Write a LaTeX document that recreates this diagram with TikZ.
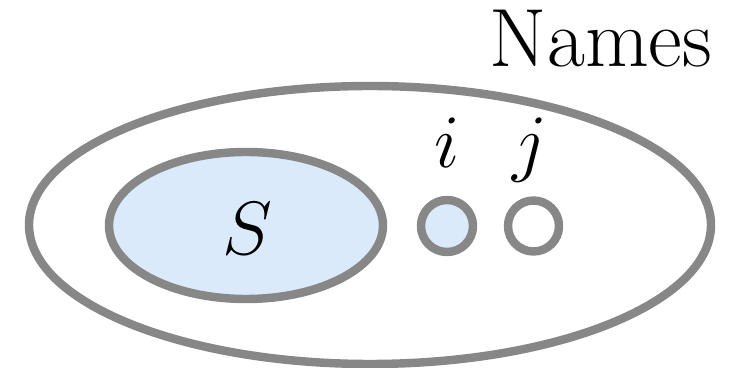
\RequirePackage{fix-cm}
\documentclass[tikz,border=0pt]{standalone}
\usepackage{amsmath,amssymb}
\usepackage{xcolor}
\usepackage{tikz}
\definecolor{rim}{HTML}{878787}
\definecolor{setfill}{HTML}{DAEAFA}
\tikzset{
  setline/.style={draw=rim, line width=4.8pt},
  filledset/.style={setline, fill=setfill},
  lab/.style={text=black, font=\fontsize{43}{48}\selectfont, anchor=base},
}

\begin{document}
\begin{tikzpicture}
  \useasboundingbox (0,0) rectangle (14.86,7.36);
  \coordinate (U) at (7.40,2.86);
  \coordinate (Sc) at (4.92,2.85);
  \coordinate (I) at (8.94,2.84);
  \coordinate (J) at (10.67,2.84);

  \draw[setline] (U) ellipse [x radius=6.82, y radius=2.78];
  \draw[filledset] (Sc) ellipse [x radius=2.74, y radius=1.47];
  \draw[filledset] (I) circle (0.52);
  \draw[setline, fill=white] (J) circle (0.51);

  \node[lab, anchor=center] (Slab) at (4.94,2.78) {$S$};
  \node[lab] (ilab) at (8.94,4.0) {$i$};
  \node[lab] (jlab) at (10.6,4.0) {$j$};
  \node[lab, font=\fontsize{47}{52}\selectfont] (names) at (12.02,6.02) {Names};
\end{tikzpicture}
\end{document}
